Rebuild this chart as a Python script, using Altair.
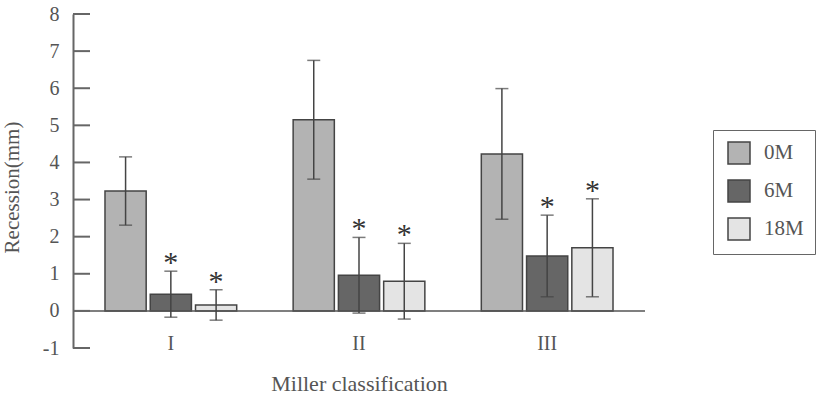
import altair as alt
import pandas as pd

categories = ["I", "II", "III"]
periods = ["0M", "6M", "18M"]
means_0m = [3.23, 5.15, 4.23]
means_6m = [0.45, 0.96, 1.48]
means_18m = [0.16, 0.80, 1.70]
err_0m = [0.92, 1.60, 1.76]
err_6m = [0.62, 1.02, 1.10]
err_18m = [0.41, 1.02, 1.32]
star_0m = [False, False, False]
star_6m = [True, True, True]
star_18m = [True, True, True]
y_ticks = [-1, 0, 1, 2, 3, 4, 5, 6, 7, 8]
colors = ["#b3b3b3", "#666666", "#e4e4e4"]

rows = []
for p, ms, es, ss in [("0M", means_0m, err_0m, star_0m),
                      ("6M", means_6m, err_6m, star_6m),
                      ("18M", means_18m, err_18m, star_18m)]:
    for c, m, e, s in zip(categories, ms, es, ss):
        rows.append({"cat": c, "period": p, "mean": m, "lo": m - e, "hi": m + e,
                     "star": "*" if s else ""})
df = pd.DataFrame(rows)

FONT = "Liberation Serif"
W, H = 572, 334

x_axis = alt.Axis(title="Miller classification", domain=False, ticks=False,
                  labelAngle=0, labelPadding=-15, labelFontSize=20,
                  labelColor="#555", labelFont=FONT,
                  titleFont=FONT, titleFontSize=22, titleColor="#555",
                  titleFontWeight="normal", titleY=35, titleBaseline="middle")
y_axis = alt.Axis(title="Recession(mm)", values=y_ticks, ticks=False,
                  grid=False, domainColor="#666", domainWidth=2,
                  labelOverlap=False, labelExpr="datum.value + ''",
                  labelPadding=14, labelFontSize=20, labelColor="#555",
                  labelFont=FONT, titleFont=FONT, titleFontSize=21,
                  titleColor="#555", titleFontWeight="normal",
                  titleX=-61, titleY=173, titleAngle=270,
                  titleAlign="center", titleBaseline="middle")
x_scale = alt.Scale(paddingInner=0.3, paddingOuter=0.17)
x_enc = alt.X("cat:N", sort=categories, scale=x_scale, axis=x_axis)
xo_enc = alt.XOffset("period:N", sort=periods,
                     scale=alt.Scale(paddingInner=0.09, paddingOuter=0))
y_scale = alt.Scale(domain=[-1, 8], nice=False, zero=False)


def yq(field):
    return alt.Y(field, scale=y_scale, axis=y_axis, title="Recession(mm)")


base = alt.Chart(df)

bars = base.mark_bar(stroke="#444", strokeWidth=1.5).encode(
    x=x_enc, xOffset=xo_enc,
    y=yq("mean:Q"),
    y2=alt.datum(0),
    color=alt.Color("period:N", sort=periods,
                    scale=alt.Scale(domain=periods, range=colors),
                    legend=alt.Legend(title=None, orient="none", legendX=640, legendY=116,
                                      symbolType="square", symbolSize=484,
                                      symbolStrokeColor="#444", symbolStrokeWidth=1.5,
                                      symbolOffset=3,
                                      labelFont=FONT, labelFontSize=21, labelColor="#555",
                                      labelOffset=13, rowPadding=10, padding=11,
                                      strokeColor="#666")),
)

err = base.mark_rule(color="#444", strokeWidth=1.5).encode(
    x=x_enc, xOffset=xo_enc, y=yq("lo:Q"), y2="hi:Q")

cap_hi = base.mark_tick(color="#444", thickness=1.5, size=13, orient="horizontal").encode(
    x=x_enc, xOffset=xo_enc, y=yq("hi:Q"))
cap_lo = base.mark_tick(color="#444", thickness=1.5, size=13, orient="horizontal").encode(
    x=x_enc, xOffset=xo_enc, y=yq("lo:Q"))

stars = base.mark_text(font=FONT, fontSize=30, color="#333", baseline="alphabetic", dy=1).encode(
    x=x_enc, xOffset=xo_enc, y=yq("hi:Q"), text="star:N")

zero = alt.Chart(pd.DataFrame({"z": [0]})).mark_rule(color="#555", strokeWidth=1.5).encode(
    y=yq("z:Q"), x=alt.value(0), x2=alt.value(W))

tick_marks = alt.Chart(pd.DataFrame({"t": y_ticks})).mark_rule(color="#666", strokeWidth=2).encode(
    y=yq("t:Q"), x=alt.value(0), x2=alt.value(17))

chart = alt.layer(bars, zero, tick_marks, err, cap_hi, cap_lo, stars).properties(
    width=W, height=H,
    autosize=alt.AutoSizeParams(type="none"),
    padding={"left": 73, "top": 14, "right": 192, "bottom": 49},
).configure_view(stroke=None).configure_axis(
    labelFont=FONT, titleFont=FONT, labelOverlap=False
).configure_legend(labelFont=FONT)

chart.save("out.html", embed_options={"renderer": "svg", "actions": False})
